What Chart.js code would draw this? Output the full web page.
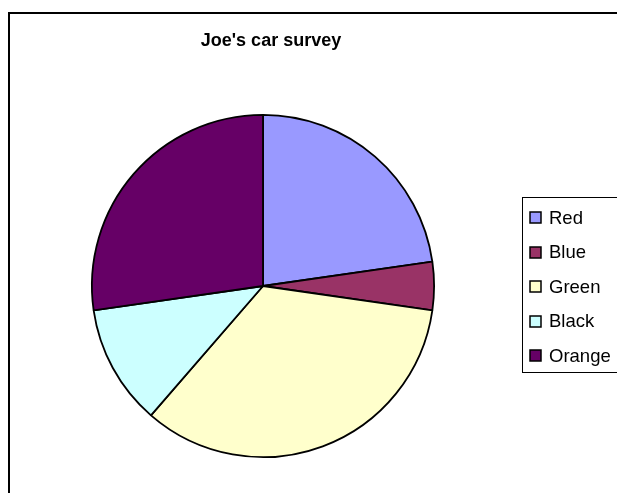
<!DOCTYPE html>
<html>
<head>
<meta charset="utf-8">
<script src="https://cdn.jsdelivr.net/npm/chart.js@4/dist/chart.umd.min.js"></script>
<style>
  html, body { margin: 0; padding: 0; background: #fff; }
  #wrap { width: 617px; height: 493px; position: relative; }
</style>
</head>
<body>
<div id="wrap"><canvas id="c" width="617" height="493"></canvas></div>
<script>
const title = "Joe's car survey";
const categories = ["Red", "Blue", "Green", "Black", "Orange"];
const counts = [10, 2, 15, 5, 12];
const sliceColors = ["#9999FF", "#993366", "#FFFFCC", "#CCFFFF", "#660066"];

const FONT = "'Liberation Sans', Arial, sans-serif";

const framePlugin = {
  id: 'frame',
  beforeDraw(chart) {
    const ctx = chart.ctx;
    ctx.save();
    ctx.fillStyle = '#fff';
    ctx.fillRect(0, 0, chart.width, chart.height);
    ctx.strokeStyle = '#000';
    ctx.lineWidth = 2;
    ctx.strokeRect(9, 13, chart.width + 10, chart.height + 10);
    ctx.restore();
  },
  afterDraw(chart) {
    const ctx = chart.ctx;
    ctx.save();
    // title
    ctx.fillStyle = '#000';
    ctx.font = 'bold 18px ' + FONT;
    ctx.textAlign = 'center';
    ctx.textBaseline = 'middle';
    ctx.fillText(title, 271, 41);
    // legend box
    ctx.strokeStyle = '#000';
    ctx.lineWidth = 1;
    ctx.strokeRect(522.5, 197.5, 110, 175);
    const labels = chart.data.labels;
    const ds = chart.data.datasets[0];
    ctx.font = '18.5px ' + FONT;
    ctx.textAlign = 'left';
    labels.forEach((lab, i) => {
      const cy = 217.5 + i * 34.6;
      ctx.fillStyle = ds.backgroundColor[i];
      ctx.fillRect(530, Math.round(cy - 5.5), 11, 11);
      ctx.strokeStyle = '#000';
      ctx.lineWidth = 1.5;
      ctx.strokeRect(530, Math.round(cy - 5.5), 11, 11);
      ctx.fillStyle = '#000';
      ctx.fillText(lab, 549, cy + 1);
    });
    ctx.restore();
  }
};

new Chart(document.getElementById('c'), {
  type: 'pie',
  data: {
    labels: categories,
    datasets: [{
      data: counts,
      backgroundColor: sliceColors,
      borderColor: '#000',
      borderWidth: 1.8
    }]
  },
  options: {
    responsive: false,
    animation: false,
    layout: { padding: { left: 91, right: 182, top: 114, bottom: 35 } },
    plugins: {
      legend: { display: false },
      title: { display: false },
      tooltip: { enabled: false }
    }
  },
  plugins: [framePlugin]
});
</script>
</body>
</html>
